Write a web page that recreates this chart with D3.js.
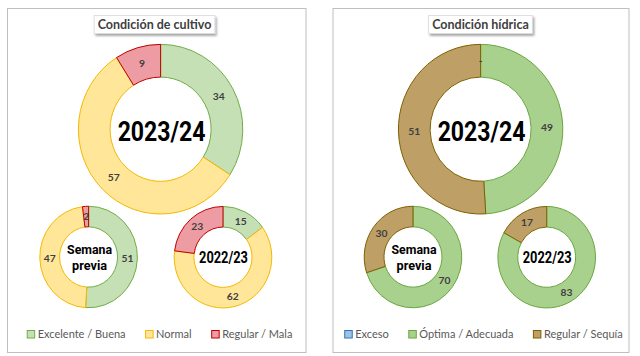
<!DOCTYPE html>
<html>
<head>
<meta charset="utf-8">
<script src="https://cdn.jsdelivr.net/npm/d3@7"></script>
<style>
  html, body { margin: 0; padding: 0; background: #fff; }
  svg { display: block; }
</style>
</head>
<body>
<svg id="chart" width="640" height="356"></svg>
<script>
// ---------------- DATA ----------------
const cultivoTitle = "Condición de cultivo";
const cultivoCats = ["Excelente / Buena", "Normal", "Regular / Mala"];
const cultivo2324 = [34, 57, 9];
const cultivoPrev = [51, 47, 2];
const cultivo2223 = [15, 62, 23];

const hidricaTitle = "Condición hídrica";
const hidricaCats = ["Exceso", "Óptima / Adecuada", "Regular / Sequía"];
const hidrica2324 = [0, 49, 51];
const hidricaPrev = [null, 70, 30];
const hidrica2223 = [null, 83, 17];

const ringNames = ["2023/24", "Semana previa", "2022/23"];

// ---------------- STYLE / LAYOUT ----------------
const cultivoFill = ["#C5E0B4", "#FFE699", "#EC9CA2"];
const cultivoStroke = ["#70AD47", "#F5B800", "#C00000"];
const hidricaFill = ["#9DC3E6", "#A9D18E", "#BE9F66"];
const hidricaStroke = ["#2E75B6", "#6AA63F", "#7F6000"];

const centerFont = "Roboto, 'DejaVu Sans', sans-serif";
const textFont = "Lato, 'Open Sans', sans-serif";

const svg = d3.select("#chart");

const defs = svg.append("defs");
const f = defs.append("filter").attr("id", "shadow")
  .attr("x", "-10%").attr("y", "-30%").attr("width", "130%").attr("height", "180%");
f.append("feDropShadow").attr("dx", 1.5).attr("dy", 2).attr("stdDeviation", 1.2)
  .attr("flood-color", "#000").attr("flood-opacity", 0.35);

const panels = [
  {
    x: 7.5, y: 8.5, w: 298.5, h: 344,
    title: cultivoTitle, titleCx: 154.5,
    cats: cultivoCats, fill: cultivoFill, stroke: cultivoStroke,
    series: [cultivo2324, cultivoPrev, cultivo2223],
    centers: [[160.6, 129.2], [88.6, 257], [223, 257.2]],
    legendCx: 159.8
  },
  {
    x: 333, y: 8.5, w: 296, h: 344,
    title: hidricaTitle, titleCx: 480.5,
    cats: hidricaCats, fill: hidricaFill, stroke: hidricaStroke,
    series: [hidrica2324, hidricaPrev, hidrica2223],
    centers: [[480.6, 129.2], [413, 257], [546.7, 257.2]],
    legendCx: 483.7
  }
];

const ringSizes = [
  { ro: 82.2, ri: 50.5, sy: 1.032 },
  { ro: 48.8, ri: 29.0, sy: 1.04 },
  { ro: 48.8, ri: 29.0, sy: 1.04 }
];

const pie = d3.pie().sort(null).value(d => d.v == null ? 0 : d.v);

// draw a centred text condensed horizontally to a target width
function condensedText(parent, str, cx, y, size, targetW) {
  const g = parent.append("g");
  const t = g.append("text")
    .attr("x", 0).attr("y", 0)
    .attr("text-anchor", "middle")
    .attr("font-family", centerFont)
    .attr("font-weight", 700)
    .attr("font-size", size)
    .attr("fill", "#000")
    .text(str);
  const w = t.node().getComputedTextLength();
  const sx = Math.min(1, targetW / w);
  g.attr("transform", `translate(${cx},${y}) scale(${sx},1)`);
  return g;
}

panels.forEach(p => {
  const g = svg.append("g");

  // panel border
  g.append("rect")
    .attr("x", p.x).attr("y", p.y).attr("width", p.w).attr("height", p.h)
    .attr("fill", "#fff").attr("stroke", "#BFBFBF").attr("stroke-width", 1);

  // title
  const tg = g.append("g");
  const tBox = tg.append("rect").attr("fill", "#fff").attr("stroke", "#D9D9D9")
    .attr("stroke-width", 0.8).attr("filter", "url(#shadow)");
  const tText = tg.append("text")
    .attr("x", p.titleCx).attr("y", 29)
    .attr("text-anchor", "middle")
    .attr("font-family", textFont)
    .attr("font-weight", 700)
    .attr("font-size", 12.5)
    .attr("fill", "#404040")
    .text(p.title);
  const bb = tText.node().getBBox();
  tBox.attr("x", bb.x - 3.5).attr("y", 15.5).attr("width", bb.width + 7).attr("height", 18);

  // donuts
  p.series.forEach((vals, i) => {
    const sz = ringSizes[i];
    const [cx, cy] = p.centers[i];
    const data = vals.map((v, k) => ({ v, k }));
    const arcs = pie(data);
    const arc = d3.arc().innerRadius(sz.ri).outerRadius(sz.ro);
    const labelArc = d3.arc().innerRadius((sz.ri + sz.ro) / 2).outerRadius((sz.ri + sz.ro) / 2);

    const dg = g.append("g").attr("transform", `translate(${cx},${cy}) scale(1,${sz.sy})`);
    dg.selectAll("path").data(arcs.filter(a => a.data.v > 0)).join("path")
      .attr("d", arc)
      .attr("fill", a => p.fill[a.data.k])
      .attr("stroke", a => p.stroke[a.data.k])
      .attr("stroke-width", 1)
      .attr("vector-effect", "non-scaling-stroke")
      .attr("stroke-linejoin", "miter");

    const lg = g.append("g").attr("transform", `translate(${cx},${cy})`);
    lg.selectAll("text").data(arcs.filter(a => a.data.v != null)).join("text")
      .attr("x", a => labelArc.centroid(a)[0])
      .attr("y", a => labelArc.centroid(a)[1] * sz.sy)
      .attr("dy", "0.35em")
      .attr("text-anchor", "middle")
      .attr("font-family", textFont)
      .attr("font-weight", 700)
      .attr("font-size", 10.3)
      .attr("fill", "#404040")
      .text(a => a.data.v === 0 ? "-" : a.data.v);

    // center name
    const name = ringNames[i];
    if (i === 0) {
      condensedText(g, name, cx + 1, 141, 28, 88);
    } else if (name.indexOf(" ") > 0) {
      const parts = name.split(" ");
      condensedText(g, parts[0], cx + 1, 254.3, 13.2, 45);
      condensedText(g, parts[1], cx + 1, 269.6, 13.2, 35);
    } else {
      condensedText(g, name, cx + 0.5, 262.7, 16.5, 49);
    }
  });

  // legend
  const leg = g.append("g");
  let x = 0;
  p.cats.forEach((c, k) => {
    const ig = leg.append("g");
    ig.append("rect").attr("x", x).attr("y", 330.5).attr("width", 7.5).attr("height", 7.5)
      .attr("fill", p.fill[k]).attr("stroke", p.stroke[k]).attr("stroke-width", 1);
    const t = ig.append("text").attr("x", x + 10.5).attr("y", 338.3)
      .attr("font-family", textFont)
      .attr("font-size", 11)
      .attr("fill", "#595959")
      .text(c);
    const w = t.node().getComputedTextLength();
    x += 10.5 + w + (k < p.cats.length - 1 ? 20 : 0);
  });
  leg.attr("transform", `translate(${p.legendCx - x / 2},0)`);
});
</script>
</body>
</html>
